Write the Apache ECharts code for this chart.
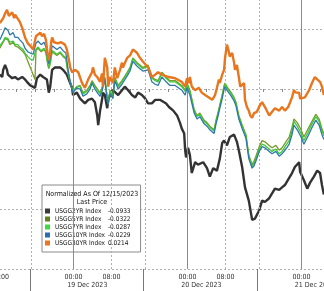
<!DOCTYPE html>
<html><head><meta charset="utf-8">
<script src="https://cdn.jsdelivr.net/npm/echarts@6/dist/echarts.min.js"></script>
<style>html,body{margin:0;padding:0;background:#fff}#c{width:324px;height:291px}</style>
</head><body><div id="c"></div>
<script>
// x values: hours since 18 Dec 2023 00:00; y values: normalized change (%)
const seriesNames = ['USGG2YR Index','USGG5YR Index','USGG7YR Index','USGG10YR Index','USGG30YR Index'];
const lastPrices = ['-0.0933','-0.0322','-0.0287','-0.0229','0.0214'];
const seriesColors = ['#3a3a3a','#61801f','#3ddc3d','#2a6db0','#e8761e'];
const lineColors = ['#333333','#7a9a2a','#3cc83c','#2f78a8','#e8761e'];

const usgg2yr = [[8.5,1.2],[9.0,1.0],[9.2,1.6],[9.6,2.0],[10.0,1.6],[10.2,1.2],[10.6,1.1],[11.1,0.9],[11.7,1.0],[12.3,0.8],[13.2,1.0],[13.8,0.8],[14.2,0.6],[14.9,0.3],[15.9,0.1],[16.3,0.9],[17.0,1.2],[17.6,1.0],[18.4,0.8],[18.8,-0.3],[19.1,0.2],[19.5,1.6],[20.1,1.8],[21.2,1.8],[21.8,1.6],[22.6,1.2],[23.3,0.5],[23.7,0.1],[23.9,-0.5],[24.7,-0.3],[25.4,-0.8],[25.8,-0.9],[26.4,-1.2],[27.1,-0.9],[27.9,-0.8],[28.5,-1.1],[29.0,-2.2],[29.2,-3.0],[29.6,-1.8],[30.0,-0.9],[30.2,-0.3],[30.6,-0.5],[31.1,-1.6],[31.3,-0.9],[31.7,-0.5],[32.3,-0.1],[33.4,-0.5],[34.2,-0.1],[34.8,0.2],[35.5,-0.1],[36.3,-0.5],[37.0,-0.7],[37.6,-0.3],[38.4,-0.5],[39.1,-0.8],[39.7,-1.2],[40.5,-1.2],[41.2,-0.9],[42.2,-0.9],[42.6,-0.9],[43.5,-1.2],[44.1,-1.5],[45.0,-1.8],[45.8,-2.2],[46.4,-2.8],[46.8,-3.3],[47.3,-3.7],[47.5,-5.1],[47.7,-5.7],[48.1,-4.9],[48.5,-5.5],[48.9,-7.0],[49.6,-6.1],[50.2,-6.3],[50.6,-6.2],[51.3,-6.1],[52.1,-6.6],[52.7,-7.3],[53.4,-6.6],[54.2,-6.8],[54.8,-5.8],[55.3,-4.5],[55.7,-4.3],[56.3,-4.7],[56.9,-4.0],[57.8,-3.8],[58.4,-4.4],[58.8,-5.1],[59.5,-6.5],[60.1,-8.2],[60.9,-9.3],[61.6,-10.9],[62.2,-10.8],[63.1,-10.1],[63.7,-9.3],[64.3,-9.4],[65.2,-9.1],[65.8,-8.7],[66.4,-8.3],[67.3,-8.4],[67.9,-8.2],[68.5,-8.0],[69.4,-7.4],[70.0,-7.0],[70.6,-6.5],[71.5,-6.1],[71.7,-6.9],[72.5,-7.6],[73.2,-8.3],[73.8,-7.8],[74.6,-7.3],[75.3,-6.8],[75.9,-7.0],[76.3,-8.0],[76.7,-8.8]];

const usgg5yr = [[8.5,3.4],[9.2,3.9],[9.6,4.2],[10.2,4.1],[10.6,3.7],[11.3,3.9],[11.7,3.6],[12.3,3.5],[12.7,3.4],[13.4,3.1],[13.8,2.9],[15.9,0.8],[16.1,3.2],[16.5,3.4],[17.2,3.1],[17.8,3.3],[18.2,3.0],[18.6,2.0],[18.8,1.7],[19.1,2.1],[19.5,3.1],[19.9,3.0],[20.5,2.8],[21.2,3.0],[21.8,2.7],[22.4,2.5],[22.8,1.4],[23.3,0.6],[23.9,-0.2],[24.7,0.2],[25.4,0.3],[26.0,-0.3],[26.8,-0.1],[27.5,0.3],[27.9,0.7],[28.5,0.3],[29.2,-0.1],[29.6,-0.3],[30.0,0.1],[30.6,1.0],[31.1,-0.7],[31.3,-1.0],[31.7,-0.1],[32.3,-0.5],[32.7,1.0],[33.4,0.3],[34.2,0.7],[35.3,1.4],[35.9,1.8],[36.5,2.6],[37.4,2.2],[38.0,2.0],[38.6,1.8],[39.7,2.0],[40.5,1.0],[41.2,0.8],[41.8,0.7],[42.6,1.4],[43.5,1.0],[44.3,0.7],[45.4,0.7],[46.8,0.3],[47.5,-0.1],[47.9,0.5],[48.5,-0.1],[49.4,-1.7],[50.0,-2.2],[50.6,-2.0],[51.5,-2.6],[52.1,-2.8],[52.7,-3.1],[53.6,-3.4],[54.0,-2.6],[54.4,-2.0],[54.8,-1.3],[55.3,-0.5],[55.7,0.3],[55.9,0.5],[56.3,0.2],[56.7,0.1],[57.2,-0.3],[57.8,-0.7],[58.2,-1.1],[58.8,-2.2],[59.5,-3.0],[59.9,-3.1],[60.3,-3.8],[60.9,-5.5],[61.6,-6.3],[62.0,-6.0],[62.4,-5.6],[63.1,-4.8],[63.7,-4.3],[64.3,-4.4],[65.2,-4.7],[65.8,-4.9],[66.6,-4.7],[67.3,-5.1],[67.9,-4.9],[68.7,-4.4],[69.4,-4.0],[70.0,-3.2],[70.4,-2.5],[71.1,-2.8],[71.9,-3.4],[72.5,-4.0],[73.4,-3.3],[74.2,-2.7],[75.0,-2.1],[75.7,-2.5],[76.3,-3.3],[76.7,-3.7]];

const usgg7yr = [[8.5,3.6],[9.2,4.0],[9.6,4.3],[10.2,4.2],[10.6,3.9],[11.3,4.0],[11.7,3.7],[12.3,3.7],[12.7,3.5],[13.4,3.3],[13.8,3.0],[14.4,2.7],[14.9,2.5],[15.5,2.4],[15.9,2.3],[16.1,3.3],[16.5,3.5],[17.2,3.2],[17.8,3.4],[18.2,3.1],[18.6,2.1],[18.8,1.8],[19.1,2.2],[19.5,3.2],[19.9,3.1],[20.5,2.9],[21.2,3.1],[21.8,2.8],[22.4,2.6],[22.8,1.5],[23.3,0.6],[23.9,-0.2],[24.7,0.2],[25.4,0.2],[26.0,-0.4],[26.8,-0.2],[27.5,0.2],[27.9,0.6],[28.5,0.2],[29.2,-0.2],[29.6,-0.4],[30.0,0.0],[30.6,0.9],[31.1,-0.8],[31.3,-1.1],[31.7,-0.2],[32.3,-0.6],[32.7,0.9],[33.4,0.2],[34.2,0.6],[35.3,1.3],[35.9,1.7],[36.5,2.5],[37.4,2.1],[38.0,1.9],[38.6,1.7],[39.7,1.9],[40.5,0.9],[41.2,0.7],[41.8,0.6],[42.6,1.3],[43.5,0.9],[44.3,0.6],[45.4,0.6],[46.8,0.2],[47.5,-0.2],[47.9,0.4],[48.5,-0.2],[49.4,-1.8],[50.0,-2.3],[50.6,-2.1],[51.5,-2.7],[52.1,-2.9],[52.7,-3.2],[53.6,-3.5],[54.0,-2.7],[54.4,-2.1],[54.8,-1.4],[55.3,-0.6],[55.7,0.2],[55.9,0.4],[56.3,0.1],[56.7,0.0],[57.2,-0.4],[57.8,-0.8],[58.2,-1.2],[58.8,-2.3],[59.5,-3.1],[59.9,-3.2],[60.3,-3.9],[60.9,-5.6],[61.6,-6.5],[62.0,-6.2],[62.4,-5.8],[63.1,-5.0],[63.7,-4.6],[64.3,-4.7],[65.2,-5.0],[65.8,-5.2],[66.6,-5.0],[67.3,-5.4],[67.9,-5.2],[68.7,-4.7],[69.4,-4.3],[70.0,-3.5],[70.4,-2.7],[71.1,-3.1],[71.9,-3.7],[72.5,-4.3],[73.4,-3.6],[74.2,-2.9],[75.0,-2.3],[75.7,-2.7],[76.3,-3.5],[76.7,-3.9]];

const usgg10yr = [[8.5,4.1],[9.2,4.7],[9.6,5.1],[10.2,4.9],[10.6,4.5],[11.3,4.7],[11.7,4.3],[12.3,4.3],[12.7,4.1],[13.4,3.8],[13.8,3.4],[14.4,3.1],[14.9,3.0],[15.5,2.9],[15.9,2.8],[16.1,3.8],[16.5,4.0],[17.2,3.7],[17.8,3.9],[18.2,3.5],[18.6,2.5],[18.8,2.1],[19.1,2.6],[19.5,3.6],[19.9,3.5],[20.5,3.3],[21.2,3.5],[21.8,3.2],[22.4,3.0],[22.8,1.8],[23.3,0.6],[23.9,-0.3],[24.7,0.1],[25.4,0.0],[26.0,-0.6],[26.8,-0.4],[27.5,0.0],[27.9,0.5],[28.5,0.0],[29.2,-0.4],[29.6,-0.6],[30.0,-0.2],[30.6,0.8],[31.1,-1.0],[31.3,-1.3],[31.7,-0.4],[32.3,-0.8],[32.7,0.7],[33.4,0.0],[34.2,0.4],[35.3,1.1],[35.9,1.5],[36.5,2.3],[37.4,1.9],[38.0,1.7],[38.6,1.5],[39.7,1.6],[40.5,0.6],[41.2,0.4],[41.8,0.3],[42.6,1.0],[43.5,0.6],[44.3,0.3],[45.4,0.3],[46.8,-0.1],[47.5,-0.5],[47.9,0.1],[48.5,-0.5],[49.4,-2.0],[50.0,-2.5],[50.6,-2.3],[51.5,-2.9],[52.1,-3.1],[52.7,-3.4],[53.6,-3.7],[54.0,-2.9],[54.4,-2.3],[54.8,-1.6],[55.3,-0.8],[55.7,0.0],[55.9,0.2],[56.3,-0.1],[56.7,-0.2],[57.2,-0.6],[57.8,-1.0],[58.2,-1.4],[58.8,-2.5],[59.5,-3.3],[59.9,-3.4],[60.3,-4.1],[60.9,-5.8],[61.6,-6.6],[62.0,-6.4],[62.4,-6.0],[63.1,-5.2],[63.7,-4.8],[64.3,-4.9],[65.2,-5.2],[65.8,-5.4],[66.6,-5.2],[67.3,-5.6],[67.9,-5.4],[68.7,-5.0],[69.4,-4.6],[70.0,-3.8],[70.4,-3.0],[71.1,-3.4],[71.9,-4.0],[72.5,-4.6],[73.4,-3.9],[74.2,-3.2],[75.0,-2.6],[75.7,-3.0],[76.3,-3.8],[76.7,-4.2]];

const usgg30yr = [[8.5,5.5],[9.2,5.9],[9.6,6.3],[10.0,6.6],[10.4,6.1],[11.1,6.4],[11.5,5.9],[11.7,6.2],[12.1,6.3],[12.7,5.6],[13.2,5.1],[13.8,4.3],[14.4,3.8],[14.9,3.6],[15.5,3.3],[15.9,3.3],[16.1,4.4],[16.3,4.5],[17.0,4.7],[17.4,4.4],[17.8,4.6],[18.2,4.1],[18.4,3.4],[18.6,2.8],[18.8,2.4],[19.1,3.1],[19.3,3.9],[19.5,4.3],[19.9,3.9],[20.3,4.0],[20.7,3.8],[21.4,3.9],[21.8,3.8],[22.2,3.7],[22.6,3.3],[23.1,2.3],[23.3,1.8],[23.7,1.4],[24.3,1.6],[25.0,1.4],[25.8,0.5],[26.4,0.1],[27.1,0.8],[27.9,1.4],[28.1,1.8],[28.5,1.2],[29.0,1.0],[29.6,0.6],[30.0,1.3],[30.2,0.2],[30.6,2.6],[31.1,1.8],[31.3,0.2],[31.7,1.0],[32.3,0.5],[32.7,1.8],[33.2,0.9],[33.8,1.6],[34.2,2.2],[34.4,1.8],[35.3,2.6],[35.9,2.8],[36.5,3.3],[37.4,3.0],[38.0,2.6],[38.6,2.3],[39.7,1.8],[40.5,1.0],[41.2,1.2],[41.8,1.4],[42.6,1.2],[43.3,1.1],[44.1,1.0],[45.4,0.9],[46.8,0.6],[47.5,0.2],[47.9,0.9],[48.3,0.5],[48.5,1.0],[48.9,0.2],[49.6,-0.1],[50.4,0.1],[51.0,-0.3],[51.7,-0.5],[52.5,-0.7],[53.2,-0.9],[53.8,-0.5],[54.2,0.1],[54.6,0.8],[54.8,0.5],[55.3,1.2],[55.7,1.6],[55.9,2.6],[56.3,3.7],[56.7,3.1],[56.9,2.7],[57.4,3.0],[57.8,2.2],[58.0,1.6],[58.4,2.0],[58.8,1.0],[59.1,0.2],[59.5,0.1],[59.9,0.5],[60.1,-0.9],[60.5,-1.5],[60.9,-1.8],[61.2,-2.2],[61.6,-2.4],[62.0,-2.0],[62.6,-1.9],[63.3,-1.3],[63.7,-1.1],[64.3,-1.5],[65.2,-2.2],[65.8,-1.9],[66.4,-1.6],[67.3,-1.8],[67.9,-1.5],[68.5,-1.8],[69.2,-1.5],[69.8,-0.9],[70.0,-0.7],[70.4,-0.1],[70.8,-0.3],[71.5,-0.3],[71.7,-0.8],[72.1,-0.9],[72.7,-0.7],[73.6,-0.1],[74.2,0.5],[74.8,1.0],[75.3,0.8],[75.9,0.6],[76.3,0.2],[76.7,-0.5]];

const seriesData = [usgg2yr, usgg5yr, usgg7yr, usgg10yr, usgg30yr];
const xMin = 8.53, xMax = 76.73;
const timeLabelHours = [xMin, 24, 32, 48, 56, 72];
const minorTickHours = [12, 16, 20, 24, 28, 32, 36, 40, 44, 48, 52, 56, 60, 64, 68, 72, 76];
const dateLabelHours = [26.9, 50.9, 74.8];
const dateLabelTexts = ['19 Dec 2023', '20 Dec 2023', '21 Dec 2023'];
const sessionBreakHours = [14.8, 38.6, 62.6];
const dayStartHours = [24, 48, 72];
const dottedGridHours = [15.2, 32, 39, 56, 63];

const FONT = "'DejaVu Sans Condensed', 'Liberation Sans Narrow', 'Liberation Sans', sans-serif";
const chart = echarts.init(document.getElementById('c'), null, {renderer: 'canvas'});

const lineSeries = seriesNames.map((name, i) => ({
  name, type: 'line', data: seriesData[i], showSymbol: false, symbol: 'none',
  color: seriesColors[i], animation: false, silent: true,
  lineStyle: {width: (i === 0 || i === 4) ? 2.4 : 1.3, color: lineColors[i]},
  z: 3 + i
}));

const markData = [];
dayStartHours.forEach(h => markData.push({xAxis: h, lineStyle: {type: 'solid', color: '#8c8c8c', width: 1}}));
dottedGridHours.forEach(h => markData.push({xAxis: h, lineStyle: {type: [2, 2], color: '#b0b0b0', width: 1}}));

const option = {
  animation: false,
  backgroundColor: '#fff',
  grid: {left: 0, right: 0, top: 0, bottom: 22, containLabel: false, outerBoundsMode: 'none'},
  title: {
    text: 'Normalized As Of 12/15/2023', subtext: 'Last Price',
    left: 92, top: 190, textAlign: 'center', itemGap: 0, padding: 0, z: 10,
    textStyle: {fontSize: 7, fontWeight: 'normal', color: '#111', fontFamily: FONT, lineHeight: 8},
    subtextStyle: {fontSize: 7, color: '#111', fontFamily: FONT, lineHeight: 8}
  },
  legend: {
    data: seriesNames, left: 42, top: 185, orient: 'vertical',
    itemWidth: 5, itemHeight: 5, itemGap: 0, icon: 'rect', selectedMode: false,
    padding: [22, 10, 5, 3], backgroundColor: '#fff', borderColor: '#8a8a8a', borderWidth: 1,
    itemStyle: {borderWidth: 0},
    textStyle: {fontSize: 6.5, lineHeight: 8, color: '#111', fontFamily: FONT,
      rich: {n: {width: 53, fontSize: 6.5, lineHeight: 8, fontFamily: FONT, color: '#111'},
             v: {fontSize: 6.5, lineHeight: 8, fontFamily: FONT, color: '#111'}}},
    formatter: name => '{n|' + name + '}{v|' + lastPrices[seriesNames.indexOf(name)] + '}'
  },
  xAxis: [{
    type: 'value', min: xMin, max: xMax, position: 'bottom',
    axisLine: {show: false}, splitLine: {show: false},
    axisTick: {show: true, customValues: minorTickHours, length: 3, lineStyle: {color: '#888'}},
    axisLabel: {customValues: timeLabelHours, fontSize: 7, color: '#333', fontFamily: FONT, margin: 5,
      formatter: v => String(Math.floor(v) % 24).padStart(2, '0') + ':00'}
  }, {
    type: 'value', min: xMin, max: xMax, position: 'bottom', offset: 0,
    axisLine: {show: false}, splitLine: {show: false},
    axisTick: {show: true, customValues: sessionBreakHours, length: 22, lineStyle: {color: '#777'}},
    axisLabel: {customValues: dateLabelHours, fontSize: 7, color: '#333', fontFamily: FONT, margin: 13,
      formatter: v => dateLabelTexts[dateLabelHours.indexOf(v)] || ''}
  }],
  yAxis: {
    type: 'value', min: -15, max: 7.42, interval: 5,
    axisLine: {show: false}, axisTick: {show: false}, axisLabel: {show: false},
    splitLine: {show: true, showMaxLine: false, lineStyle: {type: [2, 2], color: '#b0b0b0'}}
  },
  series: [{
    type: 'line', data: [], silent: true, z: 1,
    markLine: {symbol: ['none', 'none'], silent: true, animation: false, label: {show: false},
      emphasis: {disabled: true}, data: markData}
  }].concat(lineSeries)
};
chart.setOption(option);
</script></body></html>
